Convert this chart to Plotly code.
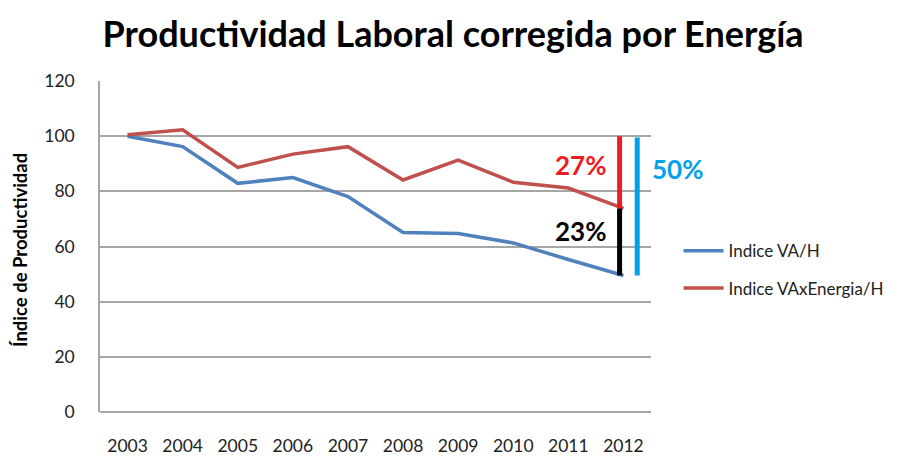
import plotly.graph_objects as go

years = ["2003", "2004", "2005", "2006", "2007", "2008", "2009", "2010", "2011", "2012"]
indice_va_h = [100.0, 96.2, 82.9, 85.0, 78.1, 65.1, 64.7, 61.3, 55.3, 49.5]
indice_vaxenergia_h = [100.5, 102.3, 88.7, 93.5, 96.2, 84.1, 91.3, 83.3, 81.2, 73.8]
series_names = ["Indice VA/H", "Indice VAxEnergia/H"]
series_colors = ["#4F81BD", "#C0504D"]
base_value = 100.0
pct_labels = ["27%", "23%", "50%"]

FONT = "Lato"

fig = go.Figure()
for i, (name, vals, col) in enumerate(zip(series_names, [indice_va_h, indice_vaxenergia_h], series_colors)):
    fig.add_trace(go.Scatter(x=years, y=vals, mode="lines", name=name,
                             legendgroup="g%d" % i,
                             line=dict(color=col, width=3.5)))

last = len(years) - 1
red_end = indice_vaxenergia_h[-1]
blue_end = indice_va_h[-1]
fig.add_shape(type="line", xref="x", yref="y", x0=last - 0.07, x1=last - 0.07,
              y0=base_value, y1=red_end, line=dict(color="#ED1C24", width=5))
fig.add_shape(type="line", xref="x", yref="y", x0=last - 0.07, x1=last - 0.07,
              y0=red_end, y1=blue_end, line=dict(color="#000000", width=5))
fig.add_shape(type="line", xref="x", yref="y", x0=last + 0.25, x1=last + 0.25,
              y0=base_value - 0.5, y1=blue_end, line=dict(color="#00A2E8", width=5))

fig.add_annotation(x=last - 0.78, y=(base_value + red_end) / 2 + 2.5, xref="x", yref="y",
                   text="<b>" + pct_labels[0] + "</b>", showarrow=False,
                   font=dict(family=FONT, size=26, color="#ED1C24"))
fig.add_annotation(x=last - 0.78, y=(red_end + blue_end) / 2 + 4, xref="x", yref="y",
                   text="<b>" + pct_labels[1] + "</b>", showarrow=False,
                   font=dict(family=FONT, size=26, color="#000000"))
fig.add_annotation(x=1.049, y=(base_value + blue_end) / 2 + 13.5, xref="paper", yref="y",
                   xanchor="center",
                   text="<b>" + pct_labels[2] + "</b>", showarrow=False,
                   font=dict(family=FONT, size=26, color="#00A2E8"))

fig.add_annotation(x=-0.145, y=0.49, xref="paper", yref="paper", textangle=-90,
                   xanchor="center", yanchor="middle",
                   text="<b>Índice de Productividad</b>", showarrow=False,
                   font=dict(family=FONT, size=18.5, color="#000000"))

fig.update_layout(
    width=901, height=448,
    margin=dict(l=92, r=258, t=73, b=44),
    paper_bgcolor="white", plot_bgcolor="white",
    title=dict(text="<b>Productividad Laboral corregida por Energía</b>",
               x=0.494, xref="container", xanchor="center", y=0.94, yref="container",
               yanchor="middle",
               font=dict(family=FONT, size=36, color="#000000")),
    font=dict(family=FONT, size=17, color="#222222"),
    showlegend=True,
    legend=dict(x=1.05, y=0.54, xanchor="left", yanchor="top",
                font=dict(family=FONT, size=17, color="#222222"),
                tracegroupgap=12, itemwidth=40, bgcolor="rgba(0,0,0,0)"),
    xaxis=dict(type="category", range=[-0.5, 9.5], showgrid=False, automargin=False,
               showline=False, ticks="", ticklabelstandoff=21,
               tickfont=dict(family=FONT, size=17.5, color="#222222")),
    yaxis=dict(range=[0, 120], dtick=20, showgrid=True, gridcolor="#A6A6A6", automargin=False,
               gridwidth=1.5, showline=True, linecolor="#A6A6A6", linewidth=1.5,
               zeroline=True, zerolinecolor="#A6A6A6", zerolinewidth=1.5,
               ticks="", ticklabelstandoff=20,
               tickfont=dict(family=FONT, size=17.5, color="#222222")),
)

fig.write_html("out.html")
